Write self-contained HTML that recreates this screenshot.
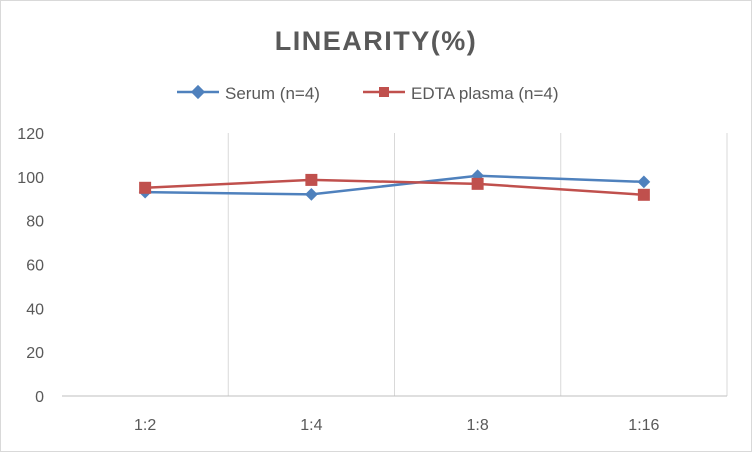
<!DOCTYPE html>
<html><head><meta charset="utf-8"><style>
body{margin:0;background:#fff;}
svg{display:block;font-family:"Liberation Sans",sans-serif;}
</style></head><body>
<svg id="chart" width="752" height="452">
<rect x="0.5" y="0.5" width="751" height="451" fill="#fff" stroke="#d9d9d9"/>
<text x="376" y="50" text-anchor="middle" font-size="27" font-weight="bold" fill="#595959" letter-spacing="1.5">LINEARITY(%)</text>
<g>
<g>
<line x1="177" y1="92" x2="219" y2="92" stroke="#4f81bd" stroke-width="2.5"/>
<rect x="193" y="87" width="10" height="10" fill="#4f81bd" transform="rotate(45 198 92)"/>
<text x="225" y="99" font-size="17" fill="#595959">Serum (n=4)</text></g>
<g>
<line x1="363" y1="92" x2="405" y2="92" stroke="#c0504d" stroke-width="2.5"/>
<rect x="379" y="87" width="10" height="10" fill="#c0504d"/>
<text x="411" y="99" font-size="17" fill="#595959">EDTA plasma (n=4)</text></g>
</g>
<g id="grid"></g><g id="axes"></g><g id="series"></g>
</svg>
<script>
const categories=["1:2","1:4","1:8","1:16"];
const serum=[93,92,100.5,97.7];
const edta=[95,98.6,96.8,91.8];
const yTicks=[0,20,40,60,80,100,120];
const L=62,R=727,T=133,B=396,yMax=120;
const ns="http://www.w3.org/2000/svg";
const cw=(R-L)/categories.length;
const x=i=>L+cw*(i+0.5);
const y=v=>B-(v/yMax)*(B-T);
function mk(tag,attrs,parent){const e=document.createElementNS(ns,tag);for(const k in attrs)e.setAttribute(k,attrs[k]);parent.appendChild(e);return e;}
const grid=document.getElementById('grid'),axes=document.getElementById('axes'),ser=document.getElementById('series');
for(let i=1;i<=categories.length;i++){
 const g=mk('line',{x1:L+cw*i,x2:L+cw*i,y1:T,y2:B,stroke:'#d9d9d9'},grid);
 
 
}
const ax=mk('line',{x1:L,x2:R,y1:B,y2:B,stroke:'#bfbfbf'},axes);


yTicks.forEach(t=>{
 const e=mk('text',{x:44,y:y(t)+6,'text-anchor':'end','font-size':'16',fill:'#595959'},axes);
 e.textContent=t;
 
 
});
categories.forEach((c,i)=>{
 const e=mk('text',{x:x(i),y:430,'text-anchor':'middle','font-size':'16',fill:'#595959'},axes);
 e.textContent=c;
 
 
});
function draw(vals,color,shape,name){
 const p=mk('polyline',{points:vals.map((v,i)=>x(i)+','+y(v)).join(' '),fill:'none',stroke:color,'stroke-width':'2.5'},ser);
 
 
 vals.forEach((v,i)=>{
  let m;
  if(shape==='diamond') m=mk('rect',{x:x(i)-4.5,y:y(v)-4.5,width:9,height:9,fill:color,transform:`rotate(45 ${x(i)} ${y(v)})`},ser);
  else m=mk('rect',{x:x(i)-6,y:y(v)-6,width:12,height:12,fill:color},ser);
  
  
 });
}
draw(serum,'#4f81bd','diamond','serum');
draw(edta,'#c0504d','square','edta');
</script>
</body></html>
